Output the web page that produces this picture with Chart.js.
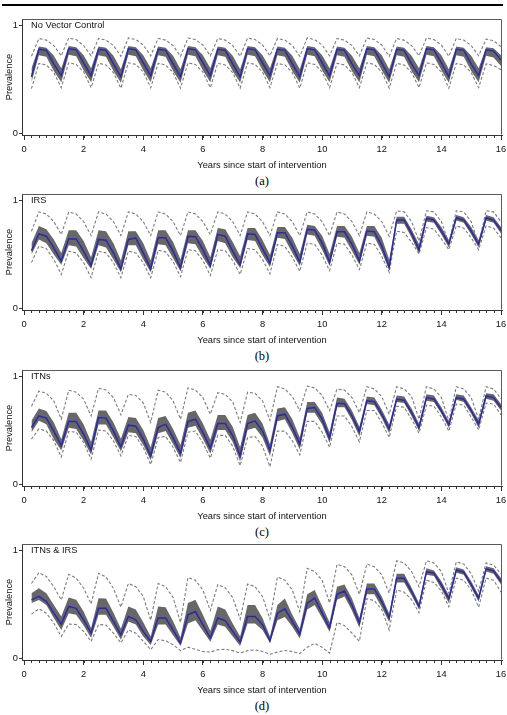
<!DOCTYPE html>
<html>
<head>
<meta charset="utf-8">
<script src="https://cdn.jsdelivr.net/npm/chart.js@4.4.1/dist/chart.umd.min.js"></script>
<style>
  html,body{margin:0;padding:0;background:#fff;}
  body{position:relative;width:507px;height:715px;overflow:hidden;font-family:"Liberation Sans",Arial,sans-serif;}
  .rule{position:absolute;left:2px;top:4px;width:501px;height:2px;background:#000;}
  canvas{position:absolute;left:0;}
  .lbl{position:absolute;left:31px;font-size:9.3px;line-height:11px;color:#111;white-space:nowrap;}
  .cap{position:absolute;left:0;width:524px;text-align:center;font-family:"Liberation Serif","DejaVu Serif",serif;font-size:12.5px;line-height:14px;color:#000;}
</style>
</head>
<body>
<div class="rule"></div>
<div id="root"></div>
<script>
// ---------- data ----------
const years = [0.25,0.5,0.75,1,1.25,1.5,1.75,2,2.25,2.5,2.75,3,3.25,3.5,3.75,4,
  4.25,4.5,4.75,5,5.25,5.5,5.75,6,6.25,6.5,6.75,7,7.25,7.5,7.75,8,
  8.25,8.5,8.75,9,9.25,9.5,9.75,10,10.25,10.5,10.75,11,11.25,11.5,11.75,12,
  12.25,12.5,12.75,13,13.25,13.5,13.75,14,14.25,14.5,14.75,15,15.25,15.5,15.75,16];
const xTickVals = [0,2,4,6,8,10,12,14,16];
const yTickVals = [0,1];
const panelTitles = ['No Vector Control','IRS','ITNs','ITNs & IRS'];
const captions = ['(a)','(b)','(c)','(d)'];
const xTitle = 'Years since start of intervention';
const yTitle = 'Prevalence';

// (a) No Vector Control
const medA = [0.52,0.775,0.765,0.64, 0.53,0.78,0.77,0.65, 0.53,0.775,0.765,0.64, 0.52,0.78,0.77,0.65,
  0.53,0.775,0.765,0.64, 0.52,0.78,0.77,0.65, 0.53,0.775,0.765,0.64, 0.52,0.78,0.77,0.65,
  0.53,0.775,0.765,0.64, 0.52,0.78,0.77,0.65, 0.53,0.775,0.765,0.64, 0.53,0.78,0.77,0.65,
  0.52,0.775,0.765,0.64, 0.53,0.78,0.77,0.65, 0.52,0.775,0.765,0.64, 0.53,0.77,0.76,0.675];
const hiA = [0.60,0.80,0.79,0.715, 0.60,0.805,0.795,0.72, 0.60,0.80,0.79,0.715, 0.59,0.805,0.795,0.72,
  0.60,0.80,0.79,0.715, 0.59,0.805,0.795,0.72, 0.60,0.80,0.79,0.715, 0.59,0.805,0.795,0.72,
  0.60,0.80,0.79,0.715, 0.59,0.805,0.795,0.72, 0.60,0.80,0.79,0.715, 0.60,0.805,0.795,0.72,
  0.59,0.80,0.79,0.715, 0.60,0.805,0.795,0.72, 0.59,0.80,0.79,0.715, 0.60,0.795,0.785,0.72];
const loA = [0.47,0.72,0.705,0.575, 0.47,0.725,0.71,0.58, 0.47,0.72,0.705,0.575, 0.465,0.725,0.71,0.58,
  0.47,0.72,0.705,0.575, 0.465,0.725,0.71,0.58, 0.47,0.72,0.705,0.575, 0.465,0.725,0.71,0.58,
  0.47,0.72,0.705,0.575, 0.465,0.725,0.71,0.58, 0.47,0.72,0.705,0.575, 0.47,0.725,0.71,0.58,
  0.465,0.72,0.705,0.575, 0.47,0.725,0.71,0.58, 0.465,0.72,0.705,0.575, 0.47,0.715,0.70,0.62];
const outHiA = [0.71,0.875,0.86,0.81, 0.715,0.88,0.865,0.81, 0.715,0.875,0.86,0.81, 0.71,0.88,0.865,0.815,
  0.715,0.875,0.86,0.81, 0.71,0.88,0.865,0.815, 0.715,0.875,0.86,0.81, 0.71,0.88,0.865,0.815,
  0.715,0.875,0.86,0.81, 0.71,0.88,0.865,0.815, 0.715,0.875,0.86,0.81, 0.715,0.88,0.865,0.815,
  0.71,0.875,0.86,0.81, 0.715,0.88,0.865,0.815, 0.71,0.875,0.86,0.81, 0.715,0.87,0.855,0.80];
const outLoA = [0.41,0.645,0.63,0.56, 0.42,0.65,0.635,0.565, 0.42,0.645,0.63,0.56, 0.415,0.65,0.635,0.565,
  0.42,0.645,0.63,0.56, 0.415,0.65,0.635,0.565, 0.42,0.645,0.63,0.56, 0.415,0.65,0.635,0.565,
  0.42,0.645,0.63,0.56, 0.415,0.65,0.635,0.565, 0.42,0.645,0.63,0.56, 0.42,0.65,0.635,0.565,
  0.415,0.645,0.63,0.56, 0.42,0.65,0.635,0.565, 0.415,0.645,0.63,0.56, 0.42,0.64,0.625,0.585];

// (b) IRS
const medB = [0.53,0.687,0.665,0.557, 0.433,0.64,0.64,0.526, 0.393,0.635,0.628,0.51, 0.362,0.635,0.647,0.51,
  0.362,0.65,0.65,0.526, 0.37,0.664,0.66,0.54, 0.393,0.68,0.665,0.526, 0.40,0.687,0.68,0.55,
  0.418,0.697,0.697,0.573, 0.424,0.728,0.72,0.60, 0.424,0.706,0.706,0.59, 0.433,0.712,0.706,0.573,
  0.375,0.815,0.815,0.69, 0.54,0.83,0.815,0.712, 0.594,0.836,0.814,0.712, 0.59,0.836,0.814,0.72];
const hiB = [0.60,0.76,0.73,0.635, 0.51,0.72,0.72,0.62, 0.47,0.72,0.71,0.60, 0.44,0.71,0.71,0.60,
  0.44,0.72,0.72,0.61, 0.45,0.72,0.72,0.62, 0.47,0.74,0.73,0.61, 0.48,0.74,0.74,0.63,
  0.49,0.75,0.75,0.65, 0.50,0.77,0.76,0.67, 0.50,0.76,0.76,0.66, 0.51,0.76,0.76,0.65,
  0.45,0.845,0.845,0.73, 0.59,0.855,0.84,0.75, 0.63,0.86,0.84,0.75, 0.63,0.86,0.84,0.75];
const loB = [0.495,0.635,0.60,0.495, 0.40,0.58,0.57,0.46, 0.36,0.58,0.56,0.45, 0.33,0.58,0.58,0.45,
  0.33,0.59,0.58,0.46, 0.34,0.60,0.59,0.47, 0.36,0.62,0.60,0.47, 0.37,0.63,0.62,0.49,
  0.38,0.65,0.64,0.51, 0.39,0.68,0.67,0.54, 0.39,0.66,0.65,0.53, 0.40,0.67,0.66,0.52,
  0.35,0.78,0.78,0.65, 0.50,0.80,0.79,0.68, 0.56,0.81,0.79,0.68, 0.56,0.81,0.79,0.69];
const outHiB = [0.71,0.89,0.87,0.80, 0.68,0.89,0.87,0.80, 0.67,0.89,0.87,0.80, 0.67,0.89,0.87,0.80,
  0.67,0.89,0.87,0.80, 0.67,0.89,0.87,0.80, 0.68,0.89,0.87,0.80, 0.67,0.89,0.87,0.80,
  0.67,0.89,0.87,0.80, 0.67,0.89,0.87,0.80, 0.67,0.89,0.87,0.80, 0.67,0.89,0.87,0.80,
  0.665,0.90,0.89,0.80, 0.62,0.90,0.89,0.80, 0.60,0.90,0.89,0.80, 0.59,0.90,0.89,0.80];
const outLoB = [0.42,0.573,0.55,0.45, 0.31,0.526,0.51,0.42, 0.28,0.526,0.51,0.42, 0.28,0.526,0.51,0.42,
  0.28,0.535,0.52,0.43, 0.29,0.54,0.53,0.44, 0.30,0.54,0.53,0.44, 0.31,0.55,0.54,0.45,
  0.316,0.588,0.57,0.47, 0.34,0.60,0.59,0.49, 0.345,0.60,0.59,0.49, 0.356,0.60,0.59,0.48,
  0.33,0.71,0.70,0.61, 0.50,0.745,0.73,0.64, 0.54,0.76,0.74,0.65, 0.54,0.76,0.74,0.65];

// (c) ITNs
const medC = [0.523,0.63,0.61,0.49, 0.354,0.578,0.578,0.46, 0.314,0.615,0.61,0.49, 0.345,0.545,0.535,0.415,
  0.26,0.523,0.554,0.43, 0.283,0.578,0.60,0.477, 0.332,0.56,0.56,0.446, 0.26,0.56,0.585,0.49,
  0.314,0.63,0.646,0.523, 0.37,0.70,0.708,0.60, 0.425,0.745,0.745,0.63, 0.486,0.77,0.763,0.646,
  0.508,0.785,0.775,0.66, 0.523,0.80,0.785,0.677, 0.548,0.80,0.785,0.68, 0.554,0.815,0.80,0.708];
const hiC = [0.585,0.70,0.677,0.57, 0.415,0.66,0.66,0.55, 0.39,0.68,0.68,0.57, 0.42,0.62,0.61,0.50,
  0.34,0.61,0.63,0.51, 0.36,0.66,0.68,0.56, 0.41,0.64,0.64,0.53, 0.34,0.64,0.66,0.56,
  0.37,0.70,0.71,0.60, 0.43,0.76,0.76,0.66, 0.48,0.80,0.79,0.68, 0.53,0.81,0.80,0.69,
  0.55,0.82,0.81,0.70, 0.56,0.83,0.82,0.71, 0.58,0.83,0.82,0.71, 0.59,0.84,0.83,0.74];
const loC = [0.477,0.585,0.554,0.415, 0.31,0.52,0.51,0.40, 0.27,0.55,0.55,0.43, 0.30,0.48,0.47,0.36,
  0.22,0.47,0.49,0.37, 0.24,0.52,0.54,0.42, 0.28,0.50,0.50,0.39, 0.21,0.50,0.52,0.43,
  0.26,0.58,0.60,0.47, 0.32,0.66,0.66,0.55, 0.38,0.71,0.71,0.59, 0.44,0.74,0.73,0.61,
  0.47,0.76,0.75,0.63, 0.49,0.77,0.76,0.65, 0.52,0.78,0.76,0.65, 0.52,0.79,0.77,0.68];
const outHiC = [0.72,0.86,0.84,0.77, 0.60,0.868,0.85,0.785, 0.63,0.886,0.87,0.80, 0.64,0.83,0.82,0.75,
  0.57,0.868,0.85,0.77, 0.60,0.89,0.87,0.80, 0.646,0.846,0.83,0.76, 0.57,0.85,0.84,0.77,
  0.59,0.90,0.88,0.81, 0.68,0.905,0.89,0.82, 0.68,0.88,0.87,0.80, 0.66,0.90,0.88,0.81,
  0.646,0.90,0.88,0.81, 0.60,0.90,0.88,0.80, 0.585,0.90,0.88,0.80, 0.60,0.90,0.88,0.79];
const outLoC = [0.415,0.51,0.49,0.40, 0.25,0.486,0.48,0.385, 0.23,0.50,0.49,0.40, 0.26,0.45,0.44,0.34,
  0.18,0.43,0.44,0.34, 0.20,0.48,0.49,0.38, 0.24,0.45,0.45,0.35, 0.17,0.43,0.44,0.35,
  0.16,0.49,0.49,0.40, 0.27,0.58,0.58,0.48, 0.34,0.63,0.63,0.53, 0.39,0.68,0.68,0.57,
  0.43,0.72,0.71,0.60, 0.47,0.73,0.72,0.62, 0.49,0.74,0.73,0.62, 0.50,0.75,0.74,0.64];

// (d) ITNs & IRS
const medD = [0.538,0.57,0.523,0.415, 0.314,0.477,0.46,0.354, 0.23,0.46,0.46,0.338, 0.215,0.385,0.354,0.246,
  0.154,0.37,0.37,0.26, 0.138,0.40,0.43,0.308, 0.185,0.37,0.345,0.246, 0.148,0.385,0.385,0.308,
  0.16,0.415,0.455,0.338, 0.22,0.508,0.554,0.415, 0.277,0.59,0.62,0.49, 0.323,0.64,0.64,0.523,
  0.37,0.738,0.738,0.615, 0.477,0.80,0.785,0.677, 0.548,0.815,0.794,0.68, 0.554,0.825,0.806,0.708];
const hiD = [0.60,0.646,0.60,0.49, 0.385,0.56,0.54,0.43, 0.277,0.554,0.55,0.42, 0.27,0.477,0.45,0.33,
  0.20,0.477,0.47,0.34, 0.19,0.51,0.54,0.40, 0.25,0.477,0.45,0.32, 0.20,0.49,0.49,0.37,
  0.20,0.49,0.55,0.40, 0.27,0.59,0.63,0.48, 0.33,0.66,0.68,0.55, 0.37,0.69,0.69,0.57,
  0.41,0.78,0.78,0.65, 0.51,0.83,0.81,0.71, 0.58,0.84,0.82,0.71, 0.58,0.85,0.83,0.74];
const loD = [0.51,0.538,0.49,0.37, 0.26,0.415,0.40,0.30, 0.185,0.40,0.40,0.29, 0.17,0.338,0.31,0.20,
  0.12,0.31,0.31,0.21, 0.11,0.32,0.35,0.25, 0.15,0.31,0.29,0.20, 0.11,0.32,0.32,0.26,
  0.14,0.35,0.38,0.29, 0.18,0.45,0.49,0.37, 0.24,0.54,0.57,0.44, 0.28,0.59,0.59,0.47,
  0.33,0.70,0.70,0.58, 0.45,0.77,0.76,0.64, 0.51,0.79,0.77,0.65, 0.52,0.80,0.78,0.68];
const outHiD = [0.69,0.79,0.755,0.66, 0.537,0.775,0.74,0.646, 0.50,0.785,0.75,0.646, 0.47,0.69,0.66,0.57,
  0.35,0.69,0.66,0.56, 0.33,0.745,0.72,0.63, 0.44,0.68,0.65,0.56, 0.36,0.685,0.66,0.57,
  0.36,0.75,0.72,0.63, 0.43,0.83,0.80,0.72, 0.51,0.868,0.845,0.77, 0.59,0.87,0.845,0.77,
  0.60,0.90,0.88,0.80, 0.66,0.90,0.88,0.80, 0.60,0.89,0.87,0.78, 0.62,0.88,0.86,0.78];
const outLoD = [0.406,0.455,0.415,0.323, 0.20,0.314,0.31,0.246, 0.154,0.31,0.305,0.23, 0.14,0.26,0.23,0.154,
  0.077,0.17,0.16,0.123, 0.068,0.10,0.08,0.06, 0.055,0.077,0.08,0.068, 0.046,0.068,0.075,0.06,
  0.035,0.055,0.07,0.06, 0.04,0.10,0.135,0.10, 0.045,0.33,0.30,0.23, 0.155,0.55,0.53,0.45,
  0.26,0.63,0.61,0.54, 0.42,0.72,0.70,0.62, 0.475,0.74,0.72,0.63, 0.47,0.74,0.72,0.61];

// ---------- drawing ----------
const panels = [
  {med:medA, lo:loA, hi:hiA, outLo:outLoA, outHi:outHiA},
  {med:medB, lo:loB, hi:hiB, outLo:outLoB, outHi:outHiB},
  {med:medC, lo:loC, hi:hiC, outLo:outLoC, outHi:outHiC},
  {med:medD, lo:loD, hi:hiD, outLo:outLoD, outHi:outHiD}
];
const plotTops = [19, 194, 370, 544];
const PAD_TOP = 12, AREA_H = 116, XAXIS_H = 38;
const PX_PER_X = 477 / 16, PX_PER_Y = 108;
const XMIN = -2 / PX_PER_X, XMAX = 16 + 1 / PX_PER_X;
const YMIN = -2 / PX_PER_Y, YMAX = 1 + 6 / PX_PER_Y;
const FONT = '"Liberation Sans", Arial, sans-serif';
const AXIS_COL = '#333';

function pts(arr) { return years.map((x, i) => ({x: x, y: arr[i]})); }

const framePlugin = {
  id: 'frame',
  afterDraw(chart) {
    const {ctx, chartArea: a, scales: {x}} = chart;
    ctx.save();
    ctx.strokeStyle = '#5a5a5a';
    ctx.lineWidth = 1;
    const l = Math.round(a.left) + 0.5, t = Math.round(a.top) + 0.5;
    const r = Math.round(a.right) - 0.5, b = Math.round(a.bottom) - 0.5;
    ctx.beginPath();
    ctx.moveTo(l, t); ctx.lineTo(r, t); ctx.lineTo(r, b);
    ctx.stroke();
    ctx.strokeStyle = AXIS_COL;
    ctx.beginPath();
    for (let v = 0; v <= 16.001; v += 0.25) {
      const px = Math.round(x.getPixelForValue(v)) + 0.5;
      ctx.moveTo(px, a.bottom);
      ctx.lineTo(px, a.bottom + 3);
    }
    ctx.stroke();
    ctx.restore();
  }
};

const root = document.getElementById('root');
panels.forEach((p, k) => {
  const top = plotTops[k];
  const cv = document.createElement('canvas');
  cv.width = 507; cv.height = PAD_TOP + AREA_H + XAXIS_H;
  cv.style.top = (top - PAD_TOP) + 'px';
  cv.style.width = '507px'; cv.style.height = cv.height + 'px';
  root.appendChild(cv);

  const lbl = document.createElement('div');
  lbl.className = 'lbl';
  lbl.style.top = (top + 0.5) + 'px';
  lbl.textContent = panelTitles[k];
  root.appendChild(lbl);

  const cap = document.createElement('div');
  cap.className = 'cap';
  cap.style.top = (top + 155) + 'px';
  cap.textContent = captions[k];
  root.appendChild(cap);

  new Chart(cv, {
    type: 'line',
    data: {
      datasets: [
        {data: pts(p.lo), borderWidth: 0, pointRadius: 0, fill: false, order: 4, borderColor: 'rgba(0,0,0,0)'},
        {data: pts(p.hi), borderWidth: 0, pointRadius: 0, fill: '-1', backgroundColor: '#676767', borderColor: 'rgba(0,0,0,0)', order: 4},
        {data: pts(p.outHi), borderColor: '#7c7c7c', borderWidth: 1.1, borderDash: [3, 2], pointRadius: 0, fill: false, order: 2},
        {data: pts(p.outLo), borderColor: '#7c7c7c', borderWidth: 1.1, borderDash: [3, 2], pointRadius: 0, fill: false, order: 2},
        {data: pts(p.med), borderColor: '#2a2aa8', borderWidth: 1.5, pointRadius: 0, fill: false, order: 0}
      ]
    },
    options: {
      responsive: false,
      animation: false,
      devicePixelRatio: 1,
      events: [],
      layout: {padding: {left: 0, right: 5, top: PAD_TOP, bottom: 0}},
      plugins: {legend: {display: false}, tooltip: {enabled: false}, title: {display: false}},
      elements: {line: {tension: 0}},
      scales: {
        x: {
          type: 'linear', min: XMIN, max: XMAX,
          afterBuildTicks: s => { s.ticks = xTickVals.map(v => ({value: v})); },
          afterFit: s => { s.height = XAXIS_H; s.paddingLeft = 0; s.paddingRight = 0; },
          ticks: {font: {family: FONT, size: 9.3}, color: '#111', padding: 4, maxRotation: 0, autoSkip: false,
                  callback: v => String(v)},
          grid: {drawOnChartArea: false, drawTicks: true, tickLength: 5, color: AXIS_COL},
          border: {display: true, color: AXIS_COL, width: 1},
          title: {display: true, text: xTitle, font: {family: FONT, size: 9.3}, color: '#111', padding: {top: 0, bottom: 2}}
        },
        y: {
          type: 'linear', min: YMIN, max: YMAX,
          afterBuildTicks: s => { s.ticks = yTickVals.map(v => ({value: v})); },
          afterFit: s => { s.width = 22; s.paddingTop = 0; s.paddingBottom = 0; },
          ticks: {font: {family: FONT, size: 9.3}, color: '#111', padding: 1, callback: v => String(v)},
          grid: {drawOnChartArea: false, drawTicks: true, tickLength: 3, color: AXIS_COL},
          border: {display: true, color: AXIS_COL, width: 1},
          title: {display: true, text: yTitle, font: {family: FONT, size: 9.3}, color: '#111', padding: {top: 4, bottom: 0}}
        }
      }
    },
    plugins: [framePlugin]
  });
});
</script>
</body>
</html>
